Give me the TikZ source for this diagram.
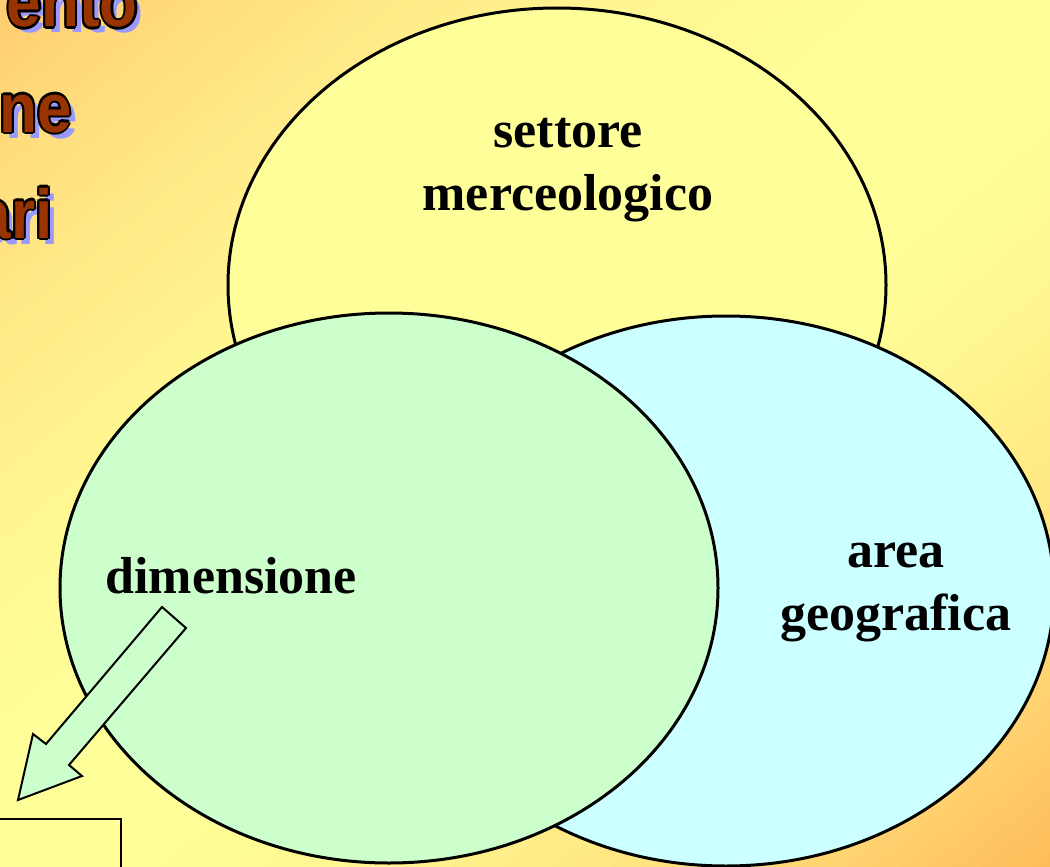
\documentclass[tikz,border=0pt]{standalone}
\usepackage{fontspec}
\setmainfont{Liberation Serif}
\newfontfamily\ttlfont{Liberation Sans}
\usetikzlibrary{calc}
\definecolor{bgorangeA}{HTML}{FFCC70}
\definecolor{bgorangeB}{HTML}{FFBC5A}
\definecolor{bgyellow}{HTML}{FFFF99}
\definecolor{ellyellow}{HTML}{FFFF99}
\definecolor{ellgreen}{HTML}{CCFFCC}
\definecolor{ellcyan}{HTML}{CCFFFF}
\definecolor{ttlbrown}{HTML}{993300}
\definecolor{ttlshadow}{HTML}{9999FF}
\tikzset{
  setblob/.style={draw=black, line width=3pt},
  lbl/.style={inner sep=0pt, anchor=base, font=\fontsize{52}{63}\selectfont\bfseries},
  ttlbase/.style={inner sep=0pt, anchor=base east, font=\ttlfont\fontsize{62}{70}\selectfont\bfseries},
  ttlshade/.style={ttlbase, text=ttlshadow},
  ttledge/.style={ttlbase, text=black},
  ttlmain/.style={ttlbase, text=ttlbrown},
  blockarrow/.style={draw=black, line width=2pt, fill=ellgreen, line join=miter},
}
\newcommand\ttlline[4]{%
  \node[ttlshade] at (#1+6,#2+6) {\scalebox{1}[1.12]{#3}};
  \foreach \a in {0,45,...,315} {\node[ttledge] at ($(#1,#2)+(\a:2.2)$) {\scalebox{1}[1.12]{#3}};}
  \node[ttlmain] (#4) at (#1,#2) {\scalebox{1}[1.12]{#3}};
}
\begin{document}
\begin{tikzpicture}[x=1pt,y=-1pt]
\useasboundingbox (0,0) rectangle (1050,867);
\begin{scope}
\clip (0,0) rectangle (1050,867);
% diagonal background gradient: orange (top-left) - yellow - orange (bottom-right)
\begin{scope}[rotate around={39.55:(525,433.5)}]
\foreach \i in {0,...,79} {
  \pgfmathsetmacro{\ya}{-670+\i*16.8}
  \pgfmathsetmacro{\tt}{(\ya+8.4)/668.5}
  \pgfmathsetmacro{\pp}{min(100,max(0,100*abs(\tt)^1.8))}
  \ifdim \tt pt<0pt
    \colorlet{stripcol}{bgorangeA!\pp!bgyellow}
  \else
    \colorlet{stripcol}{bgorangeB!\pp!bgyellow}
  \fi
  \fill[stripcol] (525-760,433.5+\ya) rectangle (525+760,433.5+\ya+17.6);
}
\end{scope}
% title fragments
\ttlline{138}{27}{ento}{ttlA}
\ttlline{72}{132}{ne}{ttlB}
\ttlline{53}{238}{ari}{ttlC}
% sets
\draw[setblob, fill=ellyellow] (557,285) ellipse [x radius=329, y radius=277];
\draw[setblob, fill=ellcyan] (726,591) ellipse [x radius=328, y radius=275];
\draw[setblob, fill=ellgreen] (389,588) ellipse [x radius=329, y radius=275];
\node[lbl] (settore) at (568,147) {\begin{tabular}[t]{@{}c@{}}settore\\merceologico\end{tabular}};
\node[lbl] (area) at (896,567) {\begin{tabular}[t]{@{}c@{}}area\\geografica\end{tabular}};
\node[lbl] (dimensione) at (231,593) {dimensione};
% block arrow
\draw[blockarrow] (162,607) -- (186,628) -- (69,765) -- (82,776) -- (18,800) -- (33,734) -- (46,744) -- cycle;
% box
\draw[line width=1.5pt] (-5,819) -- (121,819) -- (121,875);
\end{scope}
\end{tikzpicture}
\end{document}
